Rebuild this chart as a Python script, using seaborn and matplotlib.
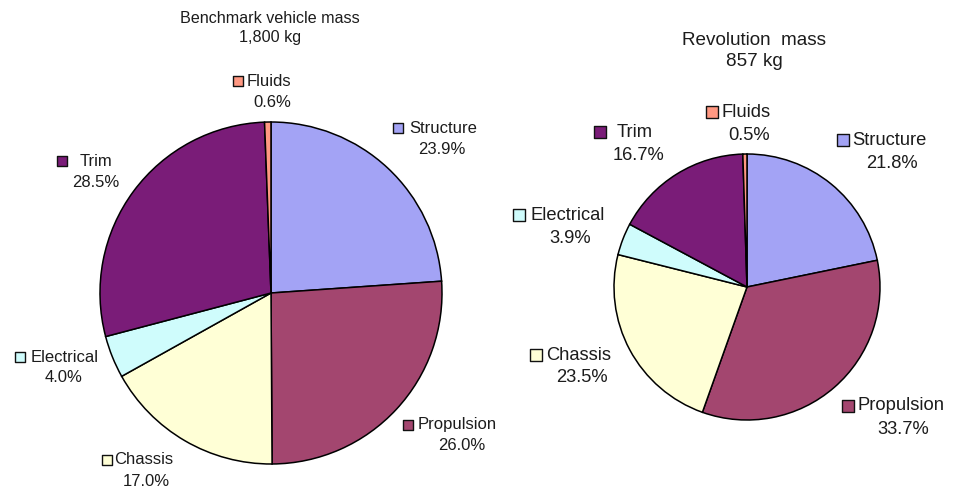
import matplotlib
matplotlib.use("Agg")
import matplotlib.pyplot as plt
import seaborn as sns

sns.set_theme(style="white")
plt.rcParams['font.family'] = ['Liberation Sans', 'DejaVu Sans']

# Mass breakdown by subsystem (percent of vehicle mass)
categories = ["Structure", "Propulsion", "Chassis", "Electrical", "Trim", "Fluids"]
benchmark_share = [23.9, 26.0, 17.0, 4.0, 28.5, 0.6]
revolution_share = [21.8, 33.7, 23.5, 3.9, 16.7, 0.5]
benchmark_title = "Benchmark vehicle mass\n1,800 kg"
revolution_title = "Revolution  mass\n857 kg"

colors = ["#A3A3F5", "#A3466F", "#FFFFD6", "#CFFCFC", "#7A1C78", "#FF9882"]
text_color = "#1c1c1c"

W, H = 955, 491
fig = plt.figure(figsize=(W / 100, H / 100), dpi=100)
ax = fig.add_axes([0, 0, 1, 1])
ax.axis("off")


def y(py):
    """Pixel row measured from the top -> data y."""
    return H - py


def draw_pie(shares, center, radius, title, title_pos, title_size,
             labels, label_size, line_gap, key_px):
    ax.pie(shares, colors=colors, startangle=90, counterclock=False,
           center=(center[0], y(center[1])), radius=radius,
           wedgeprops=dict(edgecolor="black", linewidth=1.1),
           normalize=True, frame=True)
    ax.text(title_pos[0], y(title_pos[1]), title, ha="center", va="center",
            fontsize=title_size, color=text_color, linespacing=1.3)
    for name, share, col in zip(categories, shares, colors):
        key_x, name_x, name_y, pct_x = labels[name]
        ax.text(name_x, y(name_y), name, ha="left", va="center",
                fontsize=label_size, color=text_color)
        ax.text(pct_x, y(name_y + line_gap), f"{share:.1f}%",
                ha="center", va="center", fontsize=label_size, color=text_color)
        ax.scatter([key_x], [y(name_y)], marker="s", s=(key_px * 0.72) ** 2,
                   facecolor=col, edgecolor="#111111", linewidth=1.0, zorder=5)


# label layout: key centre x, name left x, name row, percentage centre x
draw_pie(benchmark_share, (271, 293), 171, benchmark_title, (270, 28), 11.6,
         {"Structure": (398, 409, 128, 442),
          "Propulsion": (408, 418, 425, 462),
          "Chassis": (107, 114, 460, 146),
          "Electrical": (20, 31, 357, 64),
          "Trim": (62, 80, 161, 96),
          "Fluids": (238, 247, 81, 272)},
         12.0, 21, 10)
draw_pie(revolution_share, (747, 287), 133, revolution_title, (754, 51), 13.6,
         {"Structure": (843, 852, 140, 892),
          "Propulsion": (848, 857, 406, 903),
          "Chassis": (536, 546, 355, 582),
          "Electrical": (519, 530, 215, 570),
          "Trim": (600, 617, 132, 638),
          "Fluids": (712, 721, 112, 749)},
         13.2, 23, 12)

ax.set_xlim(0, W)
ax.set_ylim(0, H)
ax.set_aspect("equal")

fig.savefig("out.png", dpi=100)
